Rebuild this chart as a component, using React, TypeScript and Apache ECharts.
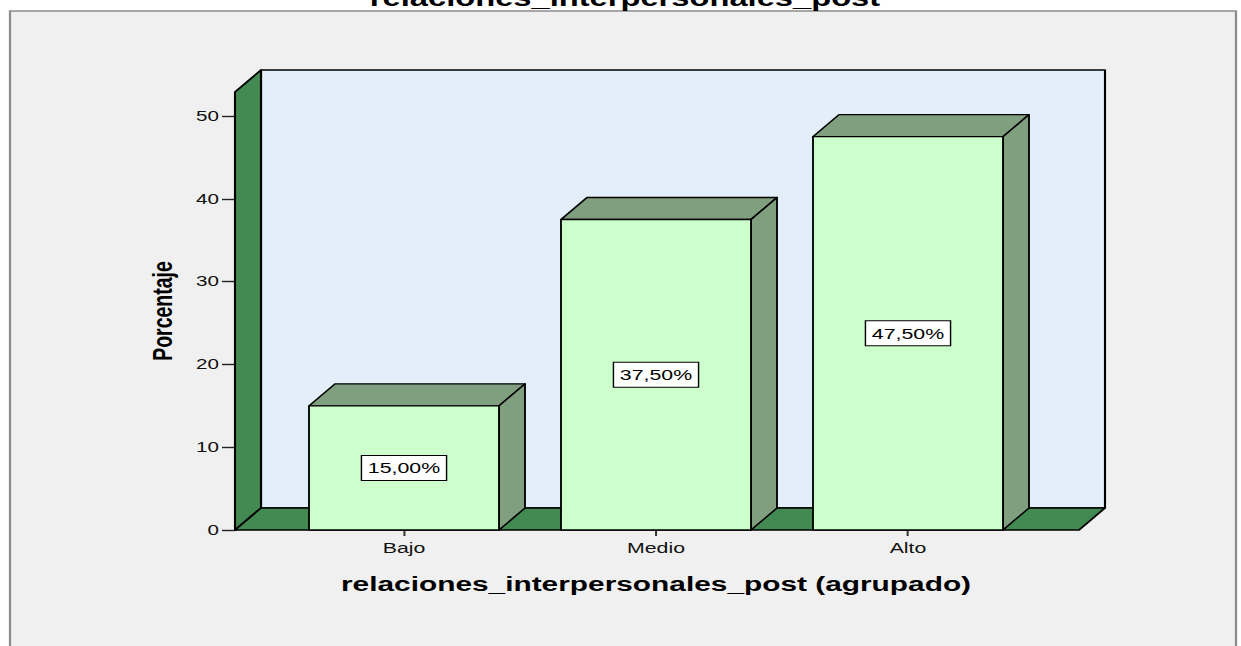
import React, { useEffect, useRef } from "react";
import * as echarts from "echarts";

// ---- data ----
const CATEGORIES: string[] = ["Bajo", "Medio", "Alto"];
const PERCENTAGES: number[] = [15.0, 37.5, 47.5];
const Y_MIN = 0;
const Y_MAX = 50;
const Y_INTERVAL = 10;
const TITLE = "relaciones_interpersonales_post";
const X_NAME = "relaciones_interpersonales_post (agrupado)";
const Y_NAME = "Porcentaje";

// ---- layout (page pixels, converted to the horizontally stretched chart space) ----
const PAGE_W = 1241;
const PAGE_H = 646;
const CHART_W = 873;
const SX = PAGE_W / CHART_W;
const px = (v: number) => v / SX;

const DEPTH_X = px(26);
const DEPTH_Y = -22;
const WALL_TOP = 52.9;
const LEFT_PAD = px(43);
const RIGHT_PAD = px(45);
const BAR_RATIO = 0.754;
const FONT = "Arial, 'Liberation Sans', sans-serif";

const WALL_GREEN = "#438a52";
const BACK_WALL = "#e2eefa";
const BAR_FRONT = "#ccffcc";
const BAR_SIDE = "#7f9f7f";

const fmt = (v: number) => v.toFixed(2).replace(".", ",") + "%";

export default function App() {
  const ref = useRef<HTMLDivElement>(null);
  useEffect(() => {
    if (!ref.current) return;
    const chart = echarts.init(ref.current, null, { renderer: "svg" });
    const option: any = {
      animation: false,
      backgroundColor: "#ffffff",
      title: {
        text: TITLE,
        left: px(625),
        textAlign: "center",
        top: -14,
        padding: 0,
        textStyle: { fontSize: 23, fontWeight: "bold", fontFamily: FONT, color: "#000" },
      },
      graphic: [
        {
          type: "rect",
          z: -100,
          silent: true,
          shape: { x: px(10), y: 11, width: px(1226), height: 700 },
          style: { fill: "#f0f0f0", stroke: "#8c8c8c", lineWidth: 1.6 },
        },
        {
          type: "text",
          z: 10,
          x: px(162),
          y: 311,
          rotation: Math.PI / 2,
          style: {
            text: Y_NAME,
            fontSize: 19.5,
            fontWeight: "bold",
            fontFamily: FONT,
            fill: "#000",
            align: "center",
            verticalAlign: "middle",
          },
        },
      ],
      grid: { left: px(278), right: px(207), top: 116, bottom: PAGE_H - 530, containLabel: false },
      xAxis: {
        type: "category",
        data: CATEGORIES,
        boundaryGap: true,
        axisLine: { show: false },
        axisTick: { show: true, alignWithLabel: true, length: 6, lineStyle: { color: "#333", width: 1.4 } },
        axisLabel: { margin: 10, fontSize: 15, fontFamily: FONT, color: "#111" },
        name: X_NAME,
        nameLocation: "middle",
        nameGap: 43,
        nameTextStyle: { fontSize: 21, fontWeight: "bold", fontFamily: FONT, color: "#000" },
        splitLine: { show: false },
      },
      yAxis: {
        type: "value",
        min: Y_MIN,
        max: Y_MAX,
        interval: Y_INTERVAL,
        offset: LEFT_PAD,
        axisLine: { show: true, lineStyle: { color: "#000", width: 1.5 } },
        axisTick: { show: true, length: px(13), lineStyle: { color: "#222", width: 1.4 } },
        axisLabel: { margin: px(16), fontSize: 14.5, fontFamily: FONT, color: "#111" },
        splitLine: { show: false },
      },
      series: [
        {
          type: "custom",
          name: "walls",
          silent: true,
          z: 1,
          data: [[0, 0]],
          encode: { x: 0, y: 1 },
          renderItem: (params: any, api: any) => {
            const cs = params.coordSys;
            const y0 = api.coord([0, 0])[1];
            const yT = api.coord([0, WALL_TOP])[1];
            const fl = cs.x - LEFT_PAD;
            const fr = cs.x + cs.width + RIGHT_PAD;
            const dx = DEPTH_X;
            const dy = DEPTH_Y;
            const stroke = { stroke: "#000", lineWidth: 1.5, lineJoin: "round" };
            return {
              type: "group",
              children: [
                {
                  type: "rect",
                  shape: { x: fl + dx, y: yT + dy, width: fr - fl, height: y0 - yT },
                  style: { fill: BACK_WALL, ...stroke },
                },
                {
                  type: "polygon",
                  shape: { points: [[fl, yT], [fl + dx, yT + dy], [fl + dx, y0 + dy], [fl, y0]] },
                  style: { fill: WALL_GREEN, ...stroke },
                },
                {
                  type: "polygon",
                  shape: { points: [[fl, y0], [fl + dx, y0 + dy], [fr + dx, y0 + dy], [fr, y0]] },
                  style: { fill: WALL_GREEN, ...stroke },
                },
              ],
            };
          },
        },
        {
          type: "custom",
          name: "Porcentaje",
          z: 2,
          data: CATEGORIES.map((c, i) => [i, PERCENTAGES[i]]),
          encode: { x: 0, y: 1 },
          renderItem: (params: any, api: any) => {
            const idx = api.value(0);
            const val = api.value(1);
            const top = api.coord([idx, val]);
            const base = api.coord([idx, 0]);
            const w = api.size([1, 0])[0] * BAR_RATIO;
            const x0 = top[0] - w / 2;
            const x1 = top[0] + w / 2;
            const yT = top[1];
            const yB = base[1];
            const dx = DEPTH_X;
            const dy = DEPTH_Y;
            const stroke = { stroke: "#000", lineWidth: 1.3, lineJoin: "round" };
            return {
              type: "group",
              children: [
                {
                  type: "polygon",
                  shape: { points: [[x0, yT], [x0 + dx, yT + dy], [x1 + dx, yT + dy], [x1, yT]] },
                  style: { fill: BAR_SIDE, ...stroke },
                },
                {
                  type: "polygon",
                  shape: { points: [[x1, yT], [x1 + dx, yT + dy], [x1 + dx, yB + dy], [x1, yB]] },
                  style: { fill: BAR_SIDE, ...stroke },
                },
                {
                  type: "rect",
                  shape: { x: x0, y: yT, width: w, height: yB - yT },
                  style: { fill: BAR_FRONT, ...stroke },
                },
                {
                  type: "text",
                  x: top[0],
                  y: (yT + yB) / 2,
                  style: {
                    text: fmt(val),
                    fontSize: 15,
                    fontFamily: FONT,
                    fill: "#000",
                    align: "center",
                    verticalAlign: "middle",
                    backgroundColor: "#ffffff",
                    borderColor: "#000",
                    borderWidth: 1,
                    padding: [4, 4, 4, 4],
                    lineHeight: 16,
                  },
                },
              ],
            };
          },
        },
      ],
    };
    chart.setOption(option);
    return () => chart.dispose();
  }, []);
  return (
    <div
      ref={ref}
      style={{
        position: "absolute",
        left: 0,
        top: 0,
        width: CHART_W,
        height: PAGE_H,
        transform: `scaleX(${SX})`,
        transformOrigin: "0 0",
      }}
    />
  );
}
